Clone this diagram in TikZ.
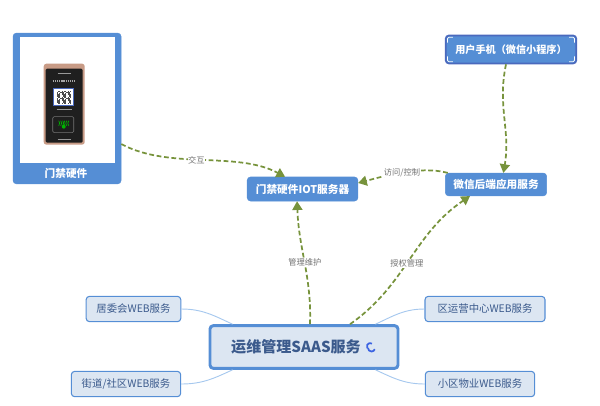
\documentclass[tikz,border=0pt]{standalone}
\usepackage{fontspec}
\setmainfont{Noto Sans CJK SC}
\newfontfamily\slantfont[AutoFakeSlant=0.25]{Noto Sans CJK SC}
\usetikzlibrary{positioning,arrows.meta}
\definecolor{boxblue}{HTML}{558ED5}
\definecolor{boxpale}{HTML}{DCE6F2}
\definecolor{inkblue}{HTML}{3B5A8C}
\definecolor{linkgreen}{HTML}{77933C}
\definecolor{linkpale}{HTML}{A6C8EE}
\definecolor{phoneedge}{HTML}{4A69BD}
\definecolor{rosegold}{HTML}{C89B86}
\begin{document}
\begin{tikzpicture}[
                x=0.75pt,
                y=0.75pt,
                on grid,
                darkbox/.style={draw=boxblue, fill=boxblue, rounded corners=2.5pt, text=white,
                    font=\fontsize{8}{10}\selectfont\bfseries, inner sep=0pt},
                palebox/.style={draw=boxblue, line width=0.8pt, fill=boxpale, rounded corners=2.5pt,
                    text=inkblue, font=\fontsize{7.8}{10}\selectfont, inner sep=0pt,
                    minimum height=19pt},
                link/.style={-{Triangle[length=6.5pt,width=7.5pt]}, draw=linkgreen, line width=1.3pt,
                    dash pattern=on 3.6pt off 2pt},
                twig/.style={draw=linkpale, line width=0.7pt},
                linklabel/.style={fill=white, inner sep=0.4pt, text=black!55,
                    font=\fontsize{6.2}{7}\slantfont}]
            \useasboundingbox (0,0) rectangle (600,-405);

            \node[palebox,line width=2.2pt,minimum width=141pt,minimum height=32pt,
                font=\fontsize{11.3}{14}\selectfont\bfseries]
                                    (saas) at (304,-347)                {运维管理SAAS服务\hspace*{12pt}};
            \node[darkbox,minimum width=83pt,minimum height=18pt]
                                    (iot)  [above left=118.5pt and 1.1pt of saas]   {门禁硬件IOT服务器};
            \node[darkbox,minimum width=76pt,minimum height=17pt]
                                    (wx)   [above right=3.4pt and 145.1pt of iot]   {微信后端应用服务};
            \node[darkbox,draw=phoneedge,line width=1.3pt,minimum width=98pt,minimum height=21pt,
                font=\fontsize{7.6}{10}\selectfont\bfseries]
                                    (phone) [above right=101.25pt and 11.25pt of wx] {用户手机（微信小程序）};
            \node[darkbox,minimum width=81pt,minimum height=113pt]
                                    (hw)   [above left=60.4pt and 176.6pt of iot]   {};
            \node[fill=white,minimum width=71pt,minimum height=94.5pt,inner sep=0pt]
                                    (hwpic) [above right=6.4pt and 0.2pt of hw]     {};
            \node[text=white,font=\fontsize{8}{10}\selectfont\bfseries,inner sep=0pt]
                                    (hwname) [below left=48.4pt and 0.8pt of hw]    {门禁硬件};
            \node[palebox,minimum width=71pt]
                                    (jwh)  [above left=28.5pt and 127.9pt of saas]  {居委会WEB服务};
            \node[palebox,minimum width=82pt]
                                    (jd)   [below left=27.75pt and 133.5pt of saas] {街道/社区WEB服务};
            \node[palebox,minimum width=90pt]
                                    (qy)   [above right=28.5pt and 135.75pt of saas] {区运营中心WEB服务};
            \node[palebox,minimum width=82pt]
                                    (xq)   [below right=27.75pt and 132pt of saas]  {小区物业WEB服务};

            \foreach \cx/\sx/\sy in {phone.north west/1/-1, phone.north east/-1/-1,
                    phone.south west/1/1, phone.south east/-1/1}
                \draw[white,line width=0.6pt,rounded corners=1pt]
                    ([xshift=\sx*2pt,yshift=\sy*6pt]\cx) -- ([xshift=\sx*2pt,yshift=\sy*2pt]\cx)
                    -- ([xshift=\sx*6pt,yshift=\sy*2pt]\cx);

            \begin{scope}[shift={(hwpic.north west)},shift={(24,-27)}]
                \fill[rosegold,rounded corners=2pt] (0,0) rectangle (41,-81);
                \fill[black!88,rounded corners=1pt] (2,-5) rectangle (39,-79);
                \fill[white] (10,-25) rectangle (30,-42);
                \draw[phoneedge,line width=0.5pt] (10,-25) rectangle (30,-42);
                \foreach \i in {0,...,11}
                    \foreach \j in {0,...,10} {
                        \pgfmathtruncatemacro{\qrbit}{mod(\i*\i*\j+7*\i+3*\j*\j,5)}
                        \ifnum\qrbit>1
                            \fill[black!70] (13+1.2*\i,-27-1.2*\j) rectangle +(1.2,-1.2);
                        \fi
                    }
                \draw[black!35,line width=1.2pt,dash pattern=on 1pt off 0.6pt] (9,-17.5) -- (31,-17.5);
                \draw[black!40,line width=0.8pt] (14,-10) -- (27,-10);
                \draw[black!40,line width=0.8pt] (13,-46) -- (28,-46);
                \draw[black!40,line width=0.8pt] (14,-76) -- (27,-76);
                \draw[black!55,rounded corners=1pt] (9,-53) rectangle (30,-69);
                \foreach \r in {2,4,6} {
                    \draw[green!70!black,line width=0.5pt] (13+\r,-57) arc[start angle=40,end angle=-40,radius=4];
                    \draw[green!70!black,line width=0.5pt] (27-\r,-57) arc[start angle=140,end angle=220,radius=4];
                }
                \fill[green!70!black] (20,-63) circle[radius=2];
            \end{scope}

            \begin{scope}[shift={(saas.center)},shift={(66,0)}]
                \draw[boxblue!70!blue,line width=1.3pt] (2,3.5) arc[start angle=60,end angle=210,radius=3.5];
                \draw[boxblue!70!blue,line width=1.3pt] (-2,-1) arc[start angle=180,end angle=340,radius=3.5];
            \end{scope}

            \path[every edge/.style={twig}]
            (jwh.east)
                edge [out=0,in=155] ([xshift=18pt]saas.north west)
            (jd.east)
                edge [out=0,in=-155] ([xshift=18pt]saas.south west)
            (qy.west)
                edge [out=180,in=25] ([xshift=-18pt]saas.north east)
            (xq.west)
                edge [out=180,in=-25] ([xshift=-18pt]saas.south east);

            \path[every edge/.style={link}]
            ([yshift=30pt]hw.south east)
                edge [out=-28,in=152,looseness=0.85] node [linklabel,pos=0.46] {交互} ([xshift=-13.1pt]iot.north)
            ([xshift=-3.75pt]phone.south)
                edge [out=-102,in=80] ([xshift=5.5pt]wx.north)
            ([xshift=2pt]wx.north west)
                edge [out=165,in=15,looseness=0.8] node [linklabel,pos=0.51] {访问/控制} ([yshift=4.5pt]iot.east)
            ([xshift=4.5pt]saas.north)
                edge [out=88,in=-88] node [linklabel,pos=0.5] {管理维护} ([xshift=-4.1pt]iot.south)
            ([xshift=34.5pt]saas.north)
                edge [out=35,in=-146] node [linklabel,pos=0.47] {授权管理} ([xshift=-19.5pt]wx.south);
        \end{tikzpicture}
\end{document}
